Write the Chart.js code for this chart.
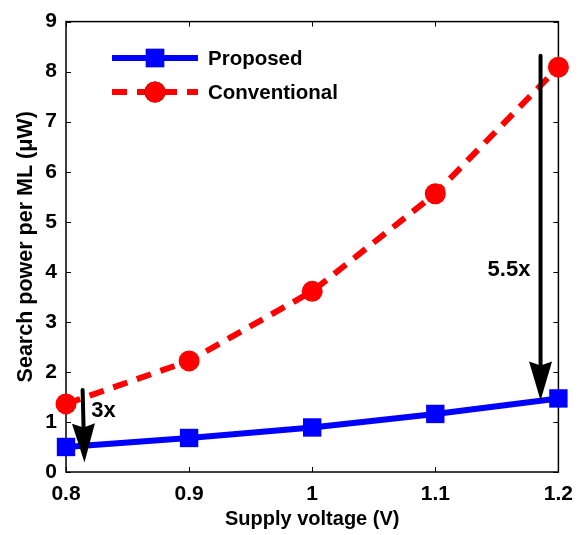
<!DOCTYPE html>
<html>
<head>
<meta charset="utf-8">
<script src="https://cdn.jsdelivr.net/npm/chart.js@4/dist/chart.umd.min.js"></script>
<style>
  html, body { margin: 0; padding: 0; background: #fff; }
  #wrap { width: 583px; height: 535px; }
</style>
</head>
<body>
<div id="wrap"><canvas id="myChart" width="583" height="535"></canvas></div>
<script>
// supply voltage (V)
const voltages = [0.8, 0.9, 1.0, 1.1, 1.2];
// search power per match line (uW)
const proposedPower = [0.50, 0.68, 0.89, 1.16, 1.47];
const conventionalPower = [1.36, 2.22, 3.61, 5.56, 8.09];

const xTicks = [0.8, 0.9, 1.0, 1.1, 1.2];
const yTicks = [0, 1, 2, 3, 4, 5, 6, 7, 8, 9];

// reduction arrows: start, tip (data units) and their labels
const arrowStart = [[0.8135, 1.64], [1.1855, 8.32]];
const arrowTip = [[0.8150, 0.19], [1.1855, 1.43]];
const arrowText = ['3x', '5.5x'];
const arrowTextAt = [[0.8205, 1.22], [1.1425, 4.03]];

const FONT = '"Liberation Sans", Arial, sans-serif';
const BLUE = '#0000ff';
const RED = '#ff0000';
const DASH = [15, 10];

// box around the plot with small inward ticks on all four sides
const framePlugin = {
  id: 'frame',
  beforeDatasetsDraw(chart) {
    const { ctx, chartArea: a, scales } = chart;
    ctx.save();
    ctx.strokeStyle = '#000';
    ctx.lineWidth = 1;
    ctx.beginPath();
    xTicks.forEach(v => {
      const x = Math.round(scales.x.getPixelForValue(v)) + 0.5;
      ctx.moveTo(x, a.bottom); ctx.lineTo(x, a.bottom - 5);
      ctx.moveTo(x, a.top); ctx.lineTo(x, a.top + 5);
    });
    yTicks.forEach(v => {
      const y = Math.round(scales.y.getPixelForValue(v)) + 0.5;
      ctx.moveTo(a.left, y); ctx.lineTo(a.left + 5, y);
      ctx.moveTo(a.right, y); ctx.lineTo(a.right - 5, y);
    });
    ctx.stroke();
    ctx.lineWidth = 1.5;
    ctx.strokeRect(a.left, a.top, a.right - a.left, a.bottom - a.top);
    ctx.restore();
  }
};

// black arrows with their ratio labels
const arrowPlugin = {
  id: 'arrows',
  afterDatasetsDraw(chart) {
    const { ctx, scales } = chart;
    ctx.save();
    arrowStart.forEach((s, i) => {
      const x0 = scales.x.getPixelForValue(s[0]), y0 = scales.y.getPixelForValue(s[1]);
      const x1 = scales.x.getPixelForValue(arrowTip[i][0]), y1 = scales.y.getPixelForValue(arrowTip[i][1]);
      const len = Math.hypot(x1 - x0, y1 - y0);
      const ux = (x1 - x0) / len, uy = (y1 - y0) / len;
      const headLen = 39, headW = 11.5;
      const bx = x1 - ux * headLen, by = y1 - uy * headLen;
      ctx.strokeStyle = '#000';
      ctx.lineWidth = 4;
      ctx.lineCap = 'round';
      ctx.beginPath();
      ctx.moveTo(x0, y0);
      ctx.lineTo(bx + ux * 6, by + uy * 6);
      ctx.stroke();
      ctx.fillStyle = '#000';
      ctx.beginPath();
      ctx.moveTo(x1, y1);
      ctx.lineTo(bx - uy * headW, by + ux * headW);
      ctx.lineTo(bx + ux * 4, by + uy * 4);
      ctx.lineTo(bx + uy * headW, by - ux * headW);
      ctx.closePath();
      ctx.fill();

      ctx.font = 'bold 22px ' + FONT;
      ctx.textAlign = 'left';
      ctx.textBaseline = 'middle';
      ctx.fillText(arrowText[i],
        scales.x.getPixelForValue(arrowTextAt[i][0]),
        scales.y.getPixelForValue(arrowTextAt[i][1]));
    });
    ctx.restore();
  }
};

// legend drawn inside the plot, upper left
const legendPlugin = {
  id: 'insideLegend',
  afterDraw(chart) {
    const { ctx } = chart;
    const x0 = 112, x1 = 198, xm = 155, tx = 208;
    const rows = [58, 92];
    ctx.save();
    chart.data.datasets.forEach((ds, i) => {
      const y = rows[i];
      ctx.strokeStyle = ds.borderColor;
      ctx.lineWidth = ds.borderWidth;
      ctx.setLineDash(ds.borderDash || []);
      ctx.beginPath();
      ctx.moveTo(x0, y); ctx.lineTo(x1, y);
      ctx.stroke();
      ctx.setLineDash([]);
      Chart.helpers.drawPoint(ctx, {
        pointStyle: ds.pointStyle, radius: ds.pointRadius, borderWidth: 0, rotation: 0
      }, xm, y);
      ctx.fillStyle = ds.pointBackgroundColor;
      ctx.fill();
      ctx.fillStyle = '#000';
      ctx.font = 'bold 20.5px ' + FONT;
      ctx.textAlign = 'left';
      ctx.textBaseline = 'middle';
      ctx.fillText(ds.label, tx, y + 1);
    });
    ctx.restore();
  }
};

const ctx = document.getElementById('myChart').getContext('2d');
const myChart = new Chart(ctx, {
  type: 'line',
  data: {
    labels: voltages,
    datasets: [{
      label: 'Proposed',
      data: voltages.map((v, i) => ({ x: v, y: proposedPower[i] })),
      borderColor: BLUE,
      backgroundColor: BLUE,
      borderWidth: 6,
      pointStyle: 'rect',
      pointRadius: 13,
      pointBackgroundColor: BLUE,
      pointBorderWidth: 0,
      pointHoverRadius: 13,
      clip: false
    }, {
      label: 'Conventional',
      data: voltages.map((v, i) => ({ x: v, y: conventionalPower[i] })),
      borderColor: RED,
      backgroundColor: RED,
      borderWidth: 6,
      borderDash: DASH,
      pointStyle: 'circle',
      pointRadius: 10.5,
      pointBackgroundColor: RED,
      pointBorderWidth: 0,
      pointHoverRadius: 10.5,
      clip: false
    }]
  },
  options: {
    responsive: false,
    animation: false,
    layout: { padding: { top: 15, right: 18, left: 0, bottom: 0 } },
    plugins: { legend: { display: false }, tooltip: { enabled: false } },
    scales: {
      x: {
        type: 'linear',
        min: 0.8,
        max: 1.2,
        afterBuildTicks: s => { s.ticks = xTicks.map(v => ({ value: v })); },
        afterFit: s => { s.height = 63; },
        grid: { display: false, drawTicks: false },
        border: { display: false },
        ticks: {
          padding: 10,
          color: '#000',
          font: { family: FONT, size: 21, weight: 'bold' },
          callback: v => String(Number(v.toFixed(1)))
        },
        title: {
          display: true,
          text: 'Supply voltage (V)',
          color: '#000',
          font: { family: FONT, size: 20, weight: 'bold' },
          padding: { top: 0, bottom: 4 }
        }
      },
      y: {
        min: 0,
        max: 9,
        afterBuildTicks: s => { s.ticks = yTicks.map(v => ({ value: v })); },
        afterFit: s => { s.width = 66; },
        grid: { display: false, drawTicks: false },
        border: { display: false },
        ticks: {
          padding: 9,
          color: '#000',
          font: { family: FONT, size: 21, weight: 'bold' }
        },
        title: {
          display: true,
          text: 'Search power per ML (μW)',
          color: '#000',
          font: { family: FONT, size: 21.5, weight: 'bold' },
          padding: { top: 13, bottom: 0 }
        }
      }
    }
  },
  plugins: [framePlugin, arrowPlugin, legendPlugin]
});
</script>
</body>
</html>
